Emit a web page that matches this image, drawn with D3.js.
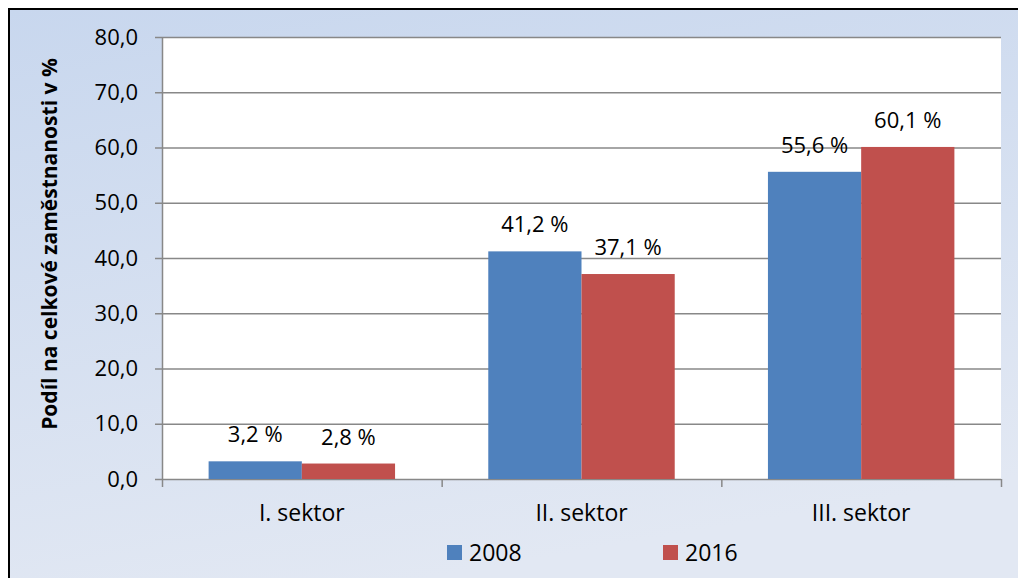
<!DOCTYPE html>
<html>
<head>
<meta charset="utf-8">
<script src="https://cdn.jsdelivr.net/npm/d3@7"></script>
<style>
  body { margin: 0; background: #fff; }
  svg text { font-family: "Open Sans", "Noto Sans", sans-serif; fill: #000; }
</style>
</head>
<body>
<div id="chart"></div>
<script>
const categories = ["I. sektor", "II. sektor", "III. sektor"];
const seriesNames = ["2008", "2016"];
const values2008 = [3.2, 41.2, 55.6];
const values2016 = [2.8, 37.1, 60.1];
const yTicks = [0, 10, 20, 30, 40, 50, 60, 70, 80];
const colors = { "2008": "#4f81bd", "2016": "#c0504d" };

const width = 1018, height = 578;
const margin = { top: 37, bottom: 99, left: 162, right: 17 };
const plotW = width - margin.left - margin.right;
const plotH = height - margin.top - margin.bottom;

const data = categories.map((c, i) => ({ key: c, v: { "2008": values2008[i], "2016": values2016[i] } }));

const svg = d3.select("#chart").append("svg")
  .attr("width", width).attr("height", height);

const defs = svg.append("defs");
const grad = defs.append("linearGradient").attr("id", "bg")
  .attr("x1", "0").attr("y1", "0").attr("x2", "0.3").attr("y2", "1");
grad.append("stop").attr("offset", "0%").attr("stop-color", "#c8d7ee");
grad.append("stop").attr("offset", "100%").attr("stop-color", "#e2e8f3");

svg.append("rect")
  .attr("x", 9).attr("y", 9).attr("width", width + 10).attr("height", height + 10)
  .attr("fill", "url(#bg)").attr("stroke", "#000").attr("stroke-width", 2);

const g = svg.append("g").attr("transform", `translate(${margin.left}, ${margin.top})`);

g.append("rect").attr("width", plotW).attr("height", plotH).attr("fill", "#fff");

const fmt = (d) => d3.format(".1f")(d).replace(".", ",");

const yScale = d3.scaleLinear().domain([0, 80]).range([plotH, 0]);
const xScale = d3.scaleBand().domain(categories).range([0, plotW]);
const xInner = d3.scaleBand().domain(seriesNames)
  .range([0, xScale.bandwidth()]).paddingOuter(0.5);

// gridlines
g.append("g").selectAll("line").data(yTicks).enter().append("line")
  .attr("x1", -7).attr("x2", plotW)
  .attr("y1", (d) => yScale(d) + 0.5).attr("y2", (d) => yScale(d) + 0.5)
  .attr("stroke", "#888").attr("stroke-width", 1.5);

// y axis
const yAxis = g.append("g").attr("id", "y-axis")
  .call(d3.axisLeft(yScale).tickValues(yTicks).tickFormat(fmt).tickSize(0).tickPadding(24));
yAxis.select(".domain").remove();
yAxis.append("line").attr("x1", 0.5).attr("x2", 0.5).attr("y1", 0).attr("y2", plotH)
  .attr("stroke", "#888").attr("stroke-width", 1.5);
yAxis.selectAll("text").style("font-size", "22px").attr("fill", "#000")
  .style("font-family", "'Open Sans', sans-serif");

// x axis
const xAxis = g.append("g").attr("id", "x-axis").attr("transform", `translate(0, ${plotH})`)
  .call(d3.axisBottom(xScale).tickSize(0).tickPadding(26));
xAxis.select(".domain").remove();
xAxis.selectAll("text").style("font-size", "23px").attr("fill", "#000")
  .style("font-family", "'Open Sans', sans-serif");
xAxis.append("g").selectAll("line").data([0, 1, 2, 3]).enter().append("line")
  .attr("x1", (d) => d * xScale.step() + 0.5).attr("x2", (d) => d * xScale.step() + 0.5)
  .attr("y1", 0).attr("y2", 8).attr("stroke", "#888").attr("stroke-width", 1.5);

// bars
const groups = g.selectAll(".cat").data(data).enter().append("g")
  .attr("class", "cat").attr("transform", (d) => `translate(${xScale(d.key)},0)`);

groups.selectAll("rect").data((d) => seriesNames.map((s) => ({ s, v: d.v[s] })))
  .enter().append("rect")
  .attr("x", (d) => xInner(d.s))
  .attr("y", (d) => yScale(d.v))
  .attr("width", xInner.bandwidth())
  .attr("height", (d) => plotH - yScale(d.v))
  .attr("fill", (d) => colors[d.s]);

groups.selectAll(".lbl").data((d) => seriesNames.map((s) => ({ s, v: d.v[s] })))
  .enter().append("text").attr("class", "lbl")
  .attr("x", (d) => xInner(d.s) + xInner.bandwidth() / 2)
  .attr("y", (d) => yScale(d.v) - 19)
  .attr("text-anchor", "middle")
  .style("font-size", "22px")
  .text((d) => fmt(d.v) + " %");

// y title
svg.append("text")
  .attr("transform", `translate(57, 244) rotate(-90)`)
  .attr("text-anchor", "middle")
  .style("font-size", "21px").style("font-weight", "bold")
  .text("Podíl na celkové zaměstnanosti v %");

// legend
const legend = svg.append("g").attr("transform", "translate(447, 545)");
const li = legend.selectAll("g").data(seriesNames).enter().append("g")
  .attr("transform", (d, i) => `translate(${i * 216}, 0)`);
li.append("rect").attr("width", 15).attr("height", 15).attr("fill", (d) => colors[d]);
li.append("text").attr("x", 22).attr("y", 16).style("font-size", "23px").text((d) => d);
</script>
</body>
</html>
